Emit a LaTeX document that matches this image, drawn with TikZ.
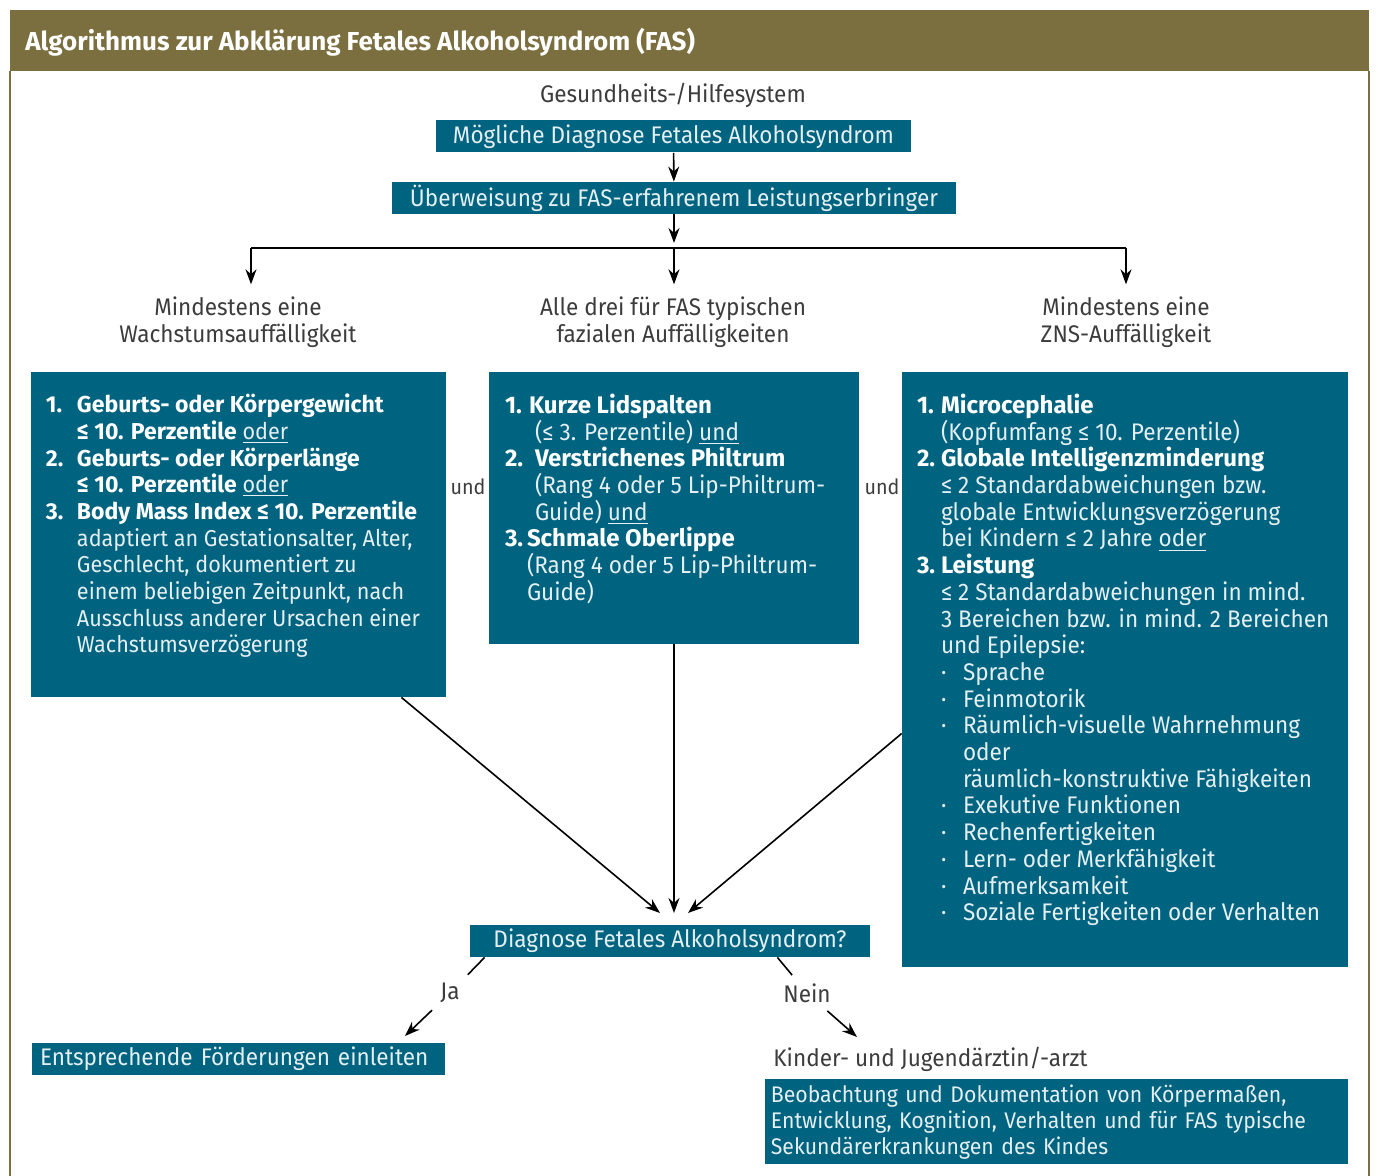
\documentclass[tikz,border=0pt]{standalone}
\usepackage{fontspec}
\setmainfont{Fira Sans}[FakeStretch=0.94]
\newfontfamily\fett{Fira Sans}
\usetikzlibrary{arrows.meta}
\definecolor{petrol}{HTML}{00637F}
\definecolor{oliv}{HTML}{7B6E3F}
\definecolor{hell}{HTML}{E3EFF3}
\definecolor{grau}{HTML}{3C3C3C}
\newcommand{\hb}[1]{\textcolor{white}{\fett\bfseries #1}}
\newcommand{\nrl}[1]{\makebox[15.5pt][l]{\hb{#1}}}
\newcommand{\nrr}[1]{\makebox[12pt][l]{\hb{#1}}}
\newcommand{\pkt}{\makebox[11pt][l]{\textperiodcentered}}
\tikzset{
  kasten/.style={fill=petrol, inner sep=0pt},
  kastentext/.style={text=hell, align=left, anchor=north west, inner sep=0pt,
    font=\fontsize{11.5}{13.35}\selectfont},
  balken/.style={fill=petrol, text=hell, inner xsep=4pt, inner ysep=0pt,
    minimum height=16pt, font=\fontsize{12}{13.35}\selectfont},
  kopf/.style={text=grau, align=center, inner sep=2pt,
    font=\fontsize{12}{13.35}\selectfont},
  pfeil/.style={->, line width=0.8pt}
}
\begin{document}
\begin{tikzpicture}[x=0.5pt,y=-0.5pt,>={Stealth[length=7.5pt,width=5.5pt]}]
\useasboundingbox (0,0) rectangle (1377,1176);
% Rahmen und Titel
\fill[oliv] (10,10) rectangle (1369,71);
\draw[oliv,line width=0.8pt] (10,71) -- (10,1176) (1369,71) -- (1369,1176);
\node[anchor=west,text=white,inner sep=0pt,font=\fett\bfseries\fontsize{13}{16}\selectfont]
  (titel) at (25,42) {Algorithmus zur Abklärung Fetales Alkoholsyndrom (FAS)};
%
\node[kopf] (hilfe) at (673,95) {Gesundheits-/Hilfesystem};
\node[balken,minimum width=237.5pt] (verdacht) at (673.5,136.5)
  {Mögliche Diagnose Fetales Alkoholsyndrom};
\node[balken,minimum width=282pt] (ueberw) at (674,198)
  {Überweisung zu FAS-erfahrenem Leistungserbringer};
\draw[pfeil] (verdacht) -- (ueberw);
% Verzweigung
\coordinate (mitte) at (674,248);
\coordinate (links) at (251,248);
\coordinate (rechts) at (1126,248);
\draw[pfeil,shorten >=2.5pt] (ueberw) -- (mitte);
\draw[line width=0.9pt] (links) -- (rechts);
\node[kopf] (k1) at (238,322) {Mindestens eine\\Wachstumsauffälligkeit};
\node[kopf] (k2) at (673,322) {Alle drei für FAS typischen\\fazialen Auffälligkeiten};
\node[kopf] (k3) at (1126,322) {Mindestens eine\\ZNS-Auffälligkeit};
\draw[pfeil,shorten >=4pt] (links) -- (links |- k1.north);
\draw[pfeil,shorten >=4pt] (mitte) -- (mitte |- k2.north);
\draw[pfeil,shorten >=4pt] (rechts) -- (rechts |- k3.north);
% Kriterien
\node[kasten,minimum width=207.5pt,minimum height=162.5pt] (wachs) at (238.5,534.5) {};
\node[kasten,minimum width=185pt,minimum height=136pt] (gesicht) at (674,508) {};
\node[kasten,minimum width=223pt,minimum height=297.5pt] (zns) at (1125,669.5) {};
\node[kastentext] (wachstxt) at ([shift={(15,22)}]wachs.north west) {%
\nrl{1.}\hb{Geburts- oder Körpergewicht}\\
\hspace*{15.5pt}\hb{≤ 10. Perzentile} \underline{oder}\\
\nrl{2.}\hb{Geburts- oder Körperlänge}\\
\hspace*{15.5pt}\hb{≤ 10. Perzentile} \underline{oder}\\
\nrl{3.}\hb{Body Mass Index ≤ 10. Perzentile}\\
\hspace*{15.5pt}adaptiert an Gestationsalter, Alter,\\
\hspace*{15.5pt}Geschlecht, dokumentiert zu\\
\hspace*{15.5pt}einem beliebigen Zeitpunkt, nach\\
\hspace*{15.5pt}Ausschluss anderer Ursachen einer\\
\hspace*{15.5pt}Wachstumsverzögerung};
\node[kastentext,font=\fontsize{12}{13.35}\selectfont] (gesichttxt)
  at ([shift={(16,22)}]gesicht.north west) {%
\nrr{1.}\hb{Kurze Lidspalten}\\
\hspace*{15pt}(≤ 3. Perzentile) \underline{und}\\
\makebox[15pt][l]{\hb{2.}}\hb{Verstrichenes Philtrum}\\
\hspace*{15pt}(Rang 4 oder 5 Lip-Philtrum-\\
\hspace*{15pt}Guide) \underline{und}\\
\makebox[11pt][l]{\hb{3.}}\hb{Schmale Oberlippe}\\
\hspace*{11pt}(Rang 4 oder 5 Lip-Philtrum-\\
\hspace*{11pt}Guide)};
\node[kastentext,font=\fontsize{12}{13.35}\selectfont] (znstxt)
  at ([shift={(15,22)}]zns.north west) {%
\nrr{1.}\hb{Microcephalie}\\
\hspace*{12pt}(Kopfumfang ≤ 10. Perzentile)\\
\nrr{2.}\hb{Globale Intelligenzminderung}\\
\hspace*{12pt}≤ 2 Standardabweichungen bzw.\\
\hspace*{12pt}globale Entwicklungsverzögerung\\
\hspace*{12pt}bei Kindern ≤ 2 Jahre \underline{oder}\\
\nrr{3.}\hb{Leistung}\\
\hspace*{12pt}≤ 2 Standardabweichungen in mind.\\
\hspace*{12pt}3 Bereichen bzw. in mind. 2 Bereichen\\
\hspace*{12pt}und Epilepsie:\\
\hspace*{12pt}\pkt Sprache\\
\hspace*{12pt}\pkt Feinmotorik\\
\hspace*{12pt}\pkt Räumlich-visuelle Wahrnehmung\\
\hspace*{23pt}oder\\
\hspace*{23pt}räumlich-konstruktive Fähigkeiten\\
\hspace*{12pt}\pkt Exekutive Funktionen\\
\hspace*{12pt}\pkt Rechenfertigkeiten\\
\hspace*{12pt}\pkt Lern- oder Merkfähigkeit\\
\hspace*{12pt}\pkt Aufmerksamkeit\\
\hspace*{12pt}\pkt Soziale Fertigkeiten oder Verhalten};
\node[kopf,font=\fontsize{10.5}{12}\selectfont] (und1) at (468,487) {und};
\node[kopf,font=\fontsize{10.5}{12}\selectfont] (und2) at (882,487) {und};
% Zusammenfuehrung
\node[balken,minimum width=200pt] (diag) at (670,941) {Diagnose Fetales Alkoholsyndrom?};
\coordinate (ein1) at (660,913);
\coordinate (ein2) at (674,913);
\coordinate (ein3) at (688,913);
\draw[pfeil] (wachs.-45.7) -- (ein1);
\draw[pfeil] (gesicht) -- (ein2);
\draw[pfeil] (zns.196.8) -- (ein3);
% Ja / Nein
\node[kopf,inner sep=4pt] (ja) at (450,993) {Ja};
\node[kopf,inner sep=4pt] (nein) at (807,993) {Nein};
\coordinate (jaend) at (405,1036);
\coordinate (neinend) at (857,1037);
\draw[line width=0.8pt] ([xshift=7.5pt]diag.south west) -- (ja);
\draw[pfeil] (ja) -- (jaend);
\draw[line width=0.8pt] ([xshift=-46.5pt]diag.south east) -- (nein);
\draw[pfeil] (nein) -- (neinend);
\node[balken,text width=198.5pt,align=left] (foerd) at (238.5,1059)
  {Entsprechende Förderungen einleiten};
\node[kopf,anchor=west,inner sep=0pt] (kinder) at (773,1059) {Kinder- und Jugendärztin/-arzt};
\node[balken,text width=286pt,inner xsep=2.75pt,align=left,anchor=north west,
  minimum height=42.5pt,font=\fontsize{11.3}{13.1}\selectfont]
  (beob) at (765,1079) {Beobachtung und Dokumentation von Körpermaßen,\\
Entwicklung, Kognition, Verhalten und für FAS typische\\
Sekundärerkrankungen des Kindes};
\end{tikzpicture}
\end{document}
